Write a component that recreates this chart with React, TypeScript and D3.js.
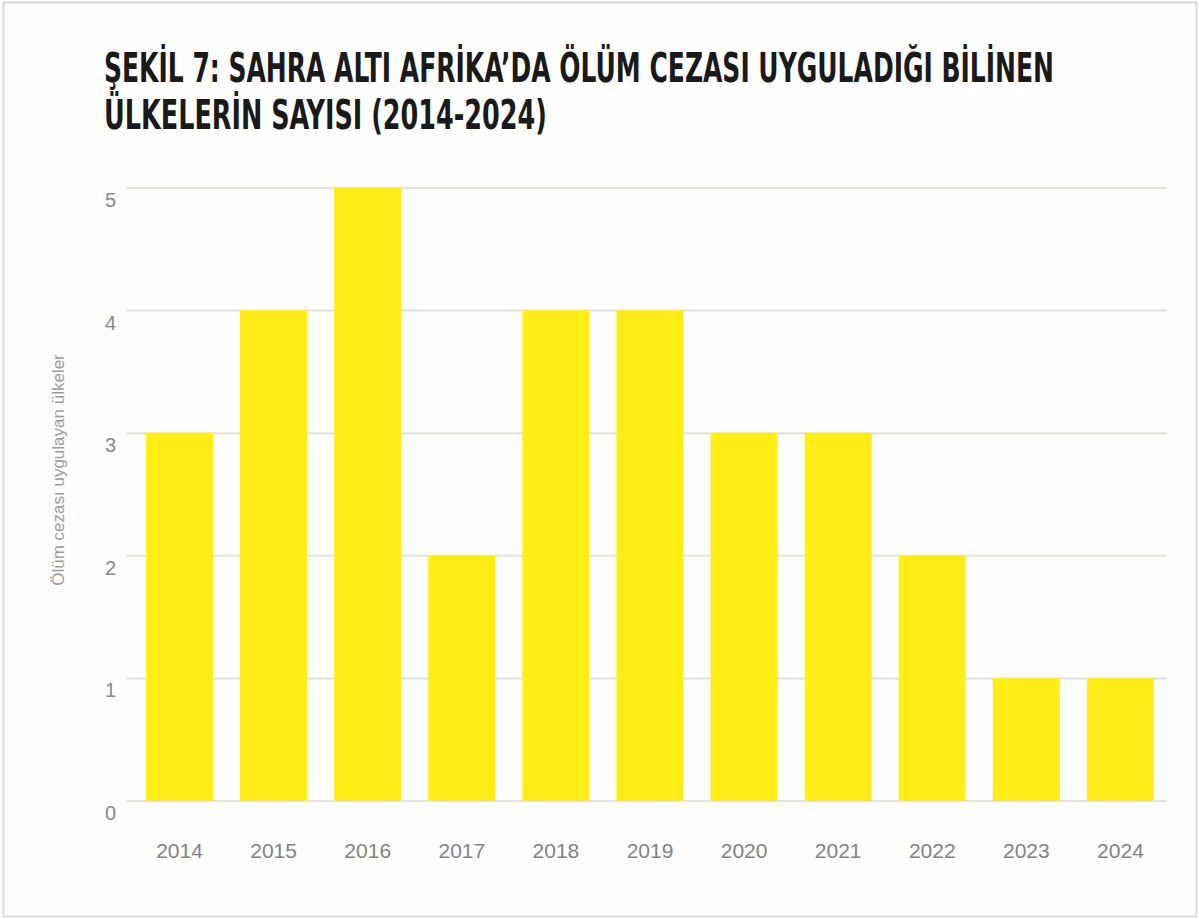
import * as d3 from "d3";

const years = ["2014", "2015", "2016", "2017", "2018", "2019", "2020", "2021", "2022", "2023", "2024"];
const countries = [3, 4, 5, 2, 4, 4, 3, 3, 2, 1, 1];
const yTicks = [0, 1, 2, 3, 4, 5];

const titleLines = [
  "ŞEKİL 7: SAHRA ALTI AFRİKA’DA ÖLÜM CEZASI UYGULADIĞI BİLİNEN",
  "ÜLKELERİN SAYISI (2014-2024)",
];
const yAxisTitle = "Ölüm cezası uygulayan ülkeler";

export default function App() {
  const width = 1199;
  const height = 919;
  const plot = { left: 127, right: 1167, top: 188, bottom: 801 };

  const x = d3.scaleBand()
    .domain(years)
    .range([130, 1170])
    .paddingInner(0.287)
    .paddingOuter(0.17);

  const y = d3.scaleLinear()
    .domain([0, 5])
    .range([plot.bottom, plot.top]);

  const tickFont = "'Liberation Sans', Arial, Helvetica, sans-serif";
  const titleFont = "'Liberation Sans Narrow', 'DejaVu Sans Condensed', 'Roboto Condensed', sans-serif";

  return (
    <svg
      width={width}
      height={height}
      style={{ position: "absolute", left: 0, top: 0, background: "#fdfdfc" }}
    >
      <rect x={3.5} y={2.5} width={1193} height={914} fill="#fdfdfc" stroke="#dcdcdc" strokeWidth={2} />

      {/* title */}
      {titleLines.map((t, i) => (
        <text
          key={i}
          x={104}
          y={82 + i * 47}
          fontFamily={titleFont}
          fontWeight="bold"
          fontSize={41}
          fill="#1a1a1a"
          textLength={i === 0 ? 950 : 443}
          lengthAdjust="spacingAndGlyphs"
        >
          {t}
        </text>
      ))}

      {/* gridlines */}
      {yTicks.map((t) => (
        <line
          key={t}
          x1={plot.left}
          x2={plot.right}
          y1={y(t)}
          y2={y(t)}
          stroke="#e3e1de"
          strokeWidth={2}
        />
      ))}

      {/* bars */}
      {years.map((yr, i) => (
        <rect
          key={yr}
          x={x(yr)}
          y={y(countries[i])}
          width={x.bandwidth()}
          height={y(0) - y(countries[i])}
          fill="#ffed15"
        />
      ))}

      {/* y tick labels */}
      {yTicks.map((t) => (
        <text
          key={t}
          x={116}
          y={y(t) + 19}
          textAnchor="end"
          fontFamily={tickFont}
          fontSize={20}
          fill="#858891"
        >
          {t}
        </text>
      ))}

      {/* x tick labels */}
      {years.map((yr) => (
        <text
          key={yr}
          x={(x(yr) ?? 0) + x.bandwidth() / 2}
          y={858}
          textAnchor="middle"
          fontFamily={tickFont}
          fontSize={21}
          fill="#80838c"
        >
          {yr}
        </text>
      ))}

      {/* y axis title */}
      <text
        transform="translate(64, 470) rotate(-90)"
        textAnchor="middle"
        fontFamily={tickFont}
        fontSize={17}
        fill="#9a9ca3"
      >
        {yAxisTitle}
      </text>
    </svg>
  );
}
